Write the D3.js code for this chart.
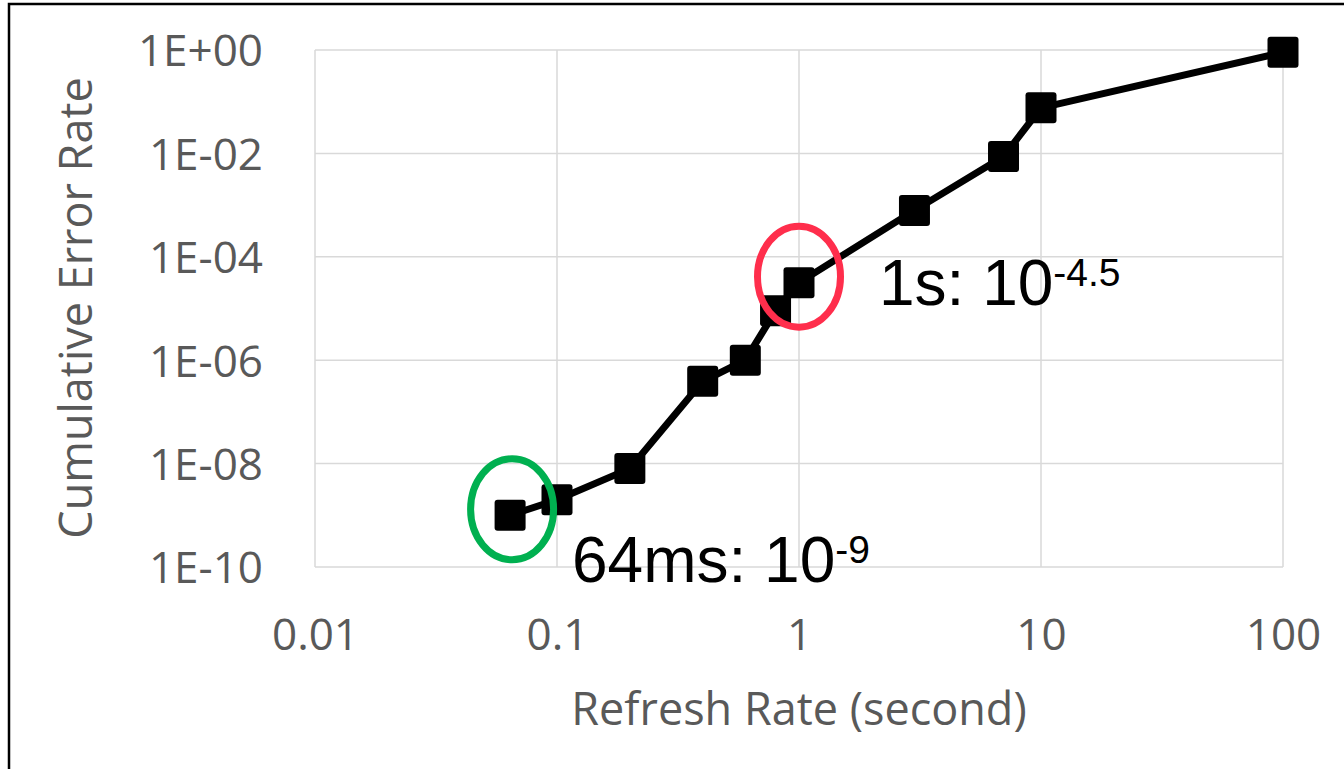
<!DOCTYPE html>
<html>
<head>
<meta charset="utf-8">
<script src="https://cdn.jsdelivr.net/npm/d3@7"></script>
<style>
  html, body { margin: 0; padding: 0; background: #fff; }
  svg { display: block; }
</style>
</head>
<body>
<svg id="chart" width="1344" height="769"></svg>
<script>
// Refresh interval (seconds) vs. cumulative error rate
const refreshRates = [0.064, 0.1, 0.2, 0.4, 0.6, 0.8, 1, 3, 7, 10, 100];
const errorRates = [1e-9, 2e-9, 8e-9, 3.9e-7, 1e-6, 9e-6, Math.pow(10, -4.5), 7.9e-4, 8.7e-3, 7.6e-2, 0.9];

const xTicks = [0.01, 0.1, 1, 10, 100];
const xTickLabels = ["0.01", "0.1", "1", "10", "100"];
const yTicks = [1, 1e-2, 1e-4, 1e-6, 1e-8, 1e-10];
const yTickLabels = ["1E+00", "1E-02", "1E-04", "1E-06", "1E-08", "1E-10"];

// Highlighted points and their annotations
const highlightNames = ["64ms: 10", "1s: 10"];
const highlightExps = ["-9", "-4.5"];
const highlightX = [0.064, 1];
const highlightY = [1e-9, Math.pow(10, -4.5)];
const highlightColors = ["#00b050", "#ff2e4c"];

const svg = d3.select("#chart");

const x = d3.scaleLog().domain([0.01, 100]).range([315, 1283]);
const y = d3.scaleLog().domain([1e-10, 1]).range([567, 50]);

const labelFont = "'Open Sans', 'Noto Sans', sans-serif";
const gray = "#595959";

// outer chart border
svg.append("rect")
  .attr("x", 9).attr("y", 4)
  .attr("width", 1400).attr("height", 900)
  .attr("fill", "none").attr("stroke", "#000").attr("stroke-width", 2.5);

// gridlines
const grid = svg.append("g");
grid.selectAll("line.h").data(yTicks).join("line")
  .attr("x1", x(0.01)).attr("x2", x(100))
  .attr("y1", d => y(d)).attr("y2", d => y(d))
  .attr("stroke", "#d9d9d9").attr("stroke-width", 1.5);
grid.selectAll("line.v").data(xTicks).join("line")
  .attr("y1", y(1)).attr("y2", y(1e-10))
  .attr("x1", d => x(d)).attr("x2", d => x(d))
  .attr("stroke", "#d9d9d9").attr("stroke-width", 1.5);

// axis tick labels
const yAxis = d3.axisLeft(y).tickValues(yTicks)
  .tickFormat((d, i) => yTickLabels[i]).tickSize(0).tickPadding(52);
svg.append("g").attr("transform", `translate(${x(0.01)},0)`).call(yAxis)
  .call(g => g.select(".domain").remove())
  .call(g => g.selectAll("text")
    .attr("font-family", labelFont).attr("font-size", 44)
    .attr("fill", gray).attr("dy", "0.36em"));

const xAxis = d3.axisBottom(x).tickValues(xTicks)
  .tickFormat((d, i) => xTickLabels[i]).tickSize(0).tickPadding(83);
svg.append("g").attr("transform", `translate(0,${y(1e-10)})`).call(xAxis)
  .call(g => g.select(".domain").remove())
  .call(g => g.selectAll("text")
    .attr("font-family", labelFont).attr("font-size", 44)
    .attr("fill", gray).attr("dy", "0"));

// axis titles
svg.append("text")
  .attr("x", 799).attr("y", 725)
  .attr("text-anchor", "middle")
  .attr("font-family", labelFont).attr("font-size", 45)
  .attr("fill", gray)
  .text("Refresh Rate (second)");

svg.append("text")
  .attr("transform", "translate(92,308) rotate(-90)")
  .attr("text-anchor", "middle")
  .attr("font-family", labelFont).attr("font-size", 45)
  .attr("fill", gray)
  .text("Cumulative Error Rate");

// series line + square markers
const pts = refreshRates.map((r, i) => [r, errorRates[i]]);
const line = d3.line().x(d => x(d[0])).y(d => y(d[1]));
svg.append("path")
  .datum(pts)
  .attr("d", line)
  .attr("fill", "none").attr("stroke", "#000")
  .attr("stroke-width", 7).attr("stroke-linejoin", "round");

const ms = 31;
svg.selectAll("rect.marker").data(pts).join("rect")
  .attr("class", "marker")
  .attr("x", d => x(d[0]) - ms / 2)
  .attr("y", d => y(d[1]) - ms / 2)
  .attr("width", ms).attr("height", ms)
  .attr("rx", 3)
  .attr("fill", "#000");

// highlight ellipses around the two key points
const ellipseShiftY = [-6, -6];
svg.selectAll("ellipse.hl").data(highlightX).join("ellipse")
  .attr("class", "hl")
  .attr("cx", (d, i) => x(d) + (i === 0 ? 2 : 0))
  .attr("cy", (d, i) => y(highlightY[i]) + ellipseShiftY[i])
  .attr("rx", 41.5).attr("ry", 50.5)
  .attr("fill", "none")
  .attr("stroke", (d, i) => highlightColors[i])
  .attr("stroke-width", 7);

// value annotations
const annoPos = [[572, 582], [879, 305]];
const annoFont = "'Liberation Sans', Arial, sans-serif";
highlightNames.forEach((name, i) => {
  const t = svg.append("text")
    .attr("x", annoPos[i][0]).attr("y", annoPos[i][1])
    .attr("font-family", annoFont).attr("font-size", 64)
    .attr("fill", "#000");
  t.append("tspan").text(name);
  t.append("tspan").attr("font-size", 39).attr("dy", -19).text(highlightExps[i]);
});
</script>
</body>
</html>
